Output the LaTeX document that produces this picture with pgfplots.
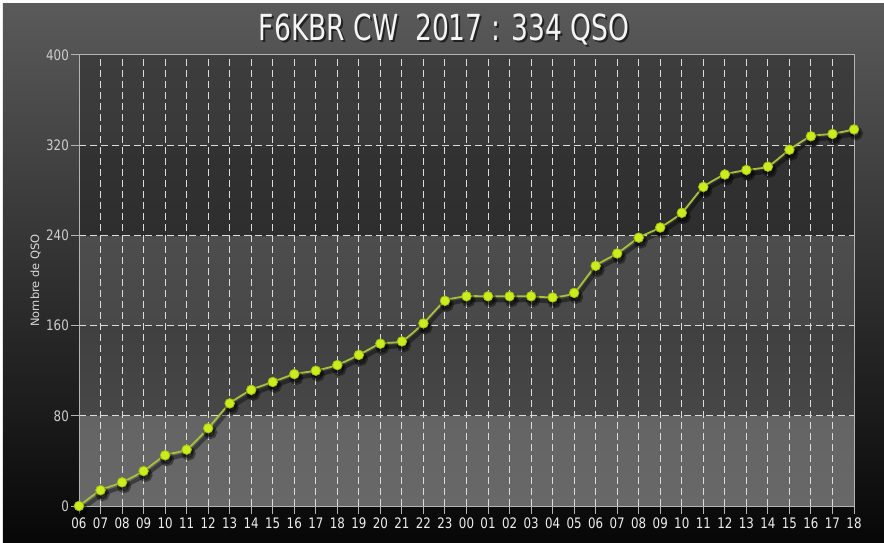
\documentclass[border=0pt]{standalone}
\usepackage{pgfplots}
\pgfplotsset{compat=1.18}
\usepackage{pgfplotstable}
\usepackage{fontspec}
\setmainfont{DejaVu Sans}
\newfontfamily\titlefont[FakeStretch=0.74]{DejaVu Sans}
\newfontfamily\tickfont[FakeStretch=0.82]{DejaVu Sans}

\definecolor{bgtop}{HTML}{5A5A5A}
\definecolor{bgmid}{HTML}{282828}
\definecolor{bgbot}{HTML}{070707}
\definecolor{axisgray}{HTML}{B4B4B4}
\definecolor{gridgray}{HTML}{DCDCDC}
\definecolor{lineclr}{HTML}{A4C23A}
\definecolor{markfill}{HTML}{CCEC1E}
\definecolor{markedge}{HTML}{9EBE12}

\pgfplotstableread{
x y
0 0
1 14
2 21
3 31
4 45
5 50
6 69
7 91
8 103
9 110
10 117
11 120
12 125
13 134
14 144
15 146
16 162
17 182
18 186
19 186
20 186
21 186
22 185
23 189
24 213
25 224
26 238
27 247
28 260
29 283
30 294
31 298
32 301
33 316
34 328
35 330
36 334
}\qsotable

\begin{document}
\begin{tikzpicture}
\useasboundingbox (-79bp,-37bp) rectangle (805bp,506bp);
\fill[white] (-79bp,-37bp) rectangle (805bp,506bp);
\shade[top color=bgtop, middle color=bgmid, bottom color=bgbot] (-76bp,-37bp) rectangle (805bp,502bp);
% horizontal bands of the plot area
\shade[top color={rgb,255:red,100;green,100;blue,100}, bottom color={rgb,255:red,104;green,104;blue,104}] (0bp,0bp) rectangle (775bp,90.2bp);
\shade[top color={rgb,255:red,64;green,64;blue,64}, bottom color={rgb,255:red,71;green,71;blue,71}] (0bp,90.2bp) rectangle (775bp,180.4bp);
\shade[top color={rgb,255:red,77;green,77;blue,77}, bottom color={rgb,255:red,72;green,72;blue,72}] (0bp,180.4bp) rectangle (775bp,270.6bp);
\shade[top color={rgb,255:red,50;green,50;blue,50}, bottom color={rgb,255:red,46;green,46;blue,46}] (0bp,270.6bp) rectangle (775bp,360.8bp);
\shade[top color={rgb,255:red,61;green,61;blue,61}, bottom color={rgb,255:red,57;green,57;blue,57}] (0bp,360.8bp) rectangle (775bp,451bp);
% title with shadow
\node[anchor=base, font=\titlefont\fontsize{36}{40}\selectfont, text=black, opacity=0.6] at (367bp,463bp) {F6KBR CW\ \ 2017 : 334 QSO};
\node[anchor=base, font=\titlefont\fontsize{36}{40}\selectfont, text={rgb,255:red,244;green,244;blue,244}] at (365bp,465bp) {F6KBR CW\ \ 2017 : 334 QSO};
\begin{axis}[
  at={(0bp,0bp)}, anchor=south west,
  scale only axis, width=775bp, height=451bp,
  xmin=0, xmax=36, ymin=0, ymax=400,
  xtick={0,...,36},
  xticklabels={06,07,08,09,10,11,12,13,14,15,16,17,18,19,20,21,22,23,00,01,02,03,04,05,06,07,08,09,10,11,12,13,14,15,16,17,18},
  ytick={0,80,160,240,320,400},
  yticklabels={0,80,160,240,320,400},
  tick pos=left, tick align=outside,
  major tick length=8bp,
  axis line style={draw=axisgray, line width=1bp},
  tick style={draw=axisgray, line width=1bp},
  grid=major,
  major grid style={draw=gridgray, line width=1bp, dash pattern=on 7bp off 4bp},
  xticklabel style={font=\tickfont\fontsize{14.5}{16}\selectfont, text={rgb,255:red,238;green,238;blue,238}, inner sep=1.5bp, yshift=-2bp},
  yticklabel style={font=\tickfont\fontsize{14.5}{16}\selectfont, text={rgb,255:red,205;green,205;blue,205}, inner sep=2bp},
  ylabel={Nombre de QSO},
  ylabel style={font=\fontsize{11.5}{13}\selectfont, text={rgb,255:red,215;green,215;blue,215}},
]
\addplot[draw=black, opacity=0.4, line width=4bp, smooth, tension=0.3, mark=*, mark size=5bp, mark options={fill=black, draw=none}, xshift=2bp, yshift=-4bp] table[x=x,y=y]{\qsotable};
\addplot[draw=lineclr, line width=1.8bp, smooth, tension=0.3, mark=*, mark size=4.8bp, mark options={fill=markfill, draw=markedge, line width=0.8bp}] table[x=x,y=y]{\qsotable};
\end{axis}
\end{tikzpicture}
\end{document}
